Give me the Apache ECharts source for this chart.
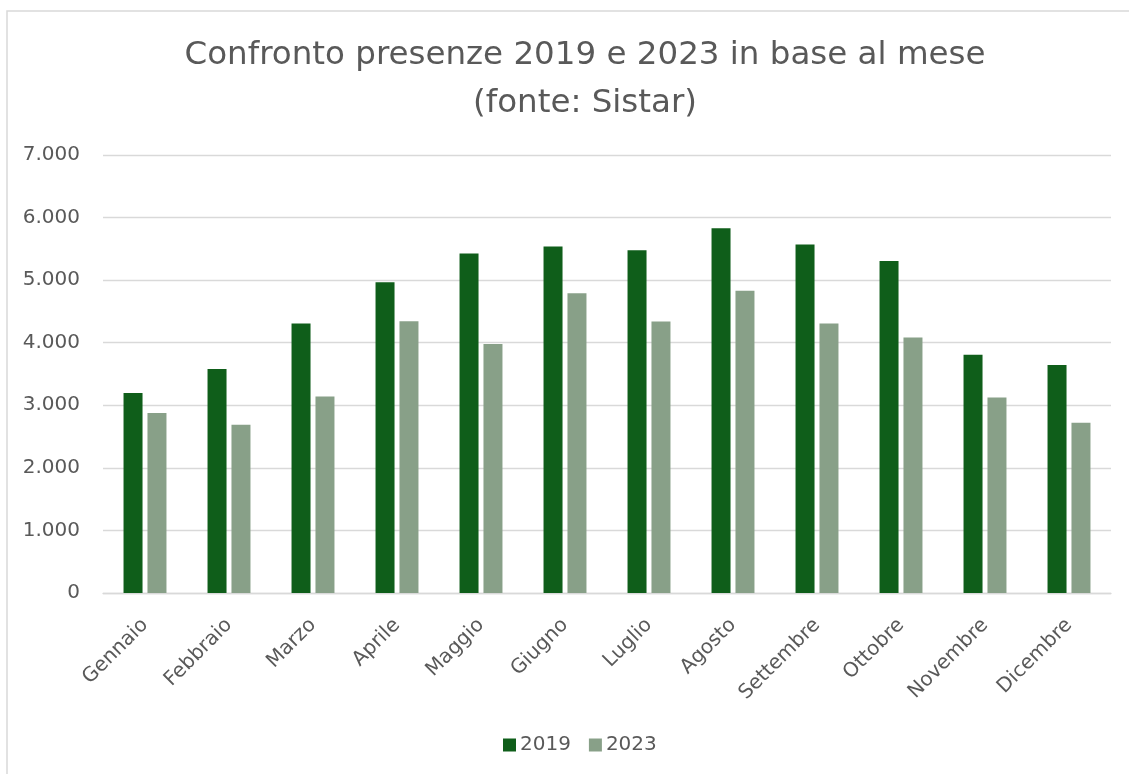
<!DOCTYPE html>
<html>
<head>
<meta charset="utf-8">
<script src="https://cdn.jsdelivr.net/npm/echarts@6/dist/echarts.min.js"></script>
<style>
  html, body { margin: 0; padding: 0; background: #ffffff; }
  #chart { width: 1129px; height: 774px; }
</style>
</head>
<body>
<div id="chart"></div>
<script>
// Monthly attendance, 2019 vs 2023
const months = ['Gennaio', 'Febbraio', 'Marzo', 'Aprile', 'Maggio', 'Giugno',
                'Luglio', 'Agosto', 'Settembre', 'Ottobre', 'Novembre', 'Dicembre'];
const presenze2019 = [3195, 3578, 4307, 4968, 5425, 5537, 5479, 5831, 5569, 5304, 3807, 3642];
const presenze2023 = [2875, 2689, 3141, 4345, 3978, 4792, 4339, 4829, 4307, 4083, 3125, 2720];
const seriesNames = ['2019', '2023'];
const titleLines = ['Confronto presenze 2019 e 2023 in base al mese', '(fonte: Sistar)'];

const FONT = '"DejaVu Sans", sans-serif';
const TEXT = '#595959';
const GRID_LINE = '#d9d9d9';

// Italian thousands separator
const fmt = v => String(v).replace(/\B(?=(\d{3})+(?!\d))/g, '.');

const chart = echarts.init(document.getElementById('chart'), null, { renderer: 'canvas' });
chart.setOption({
  backgroundColor: '#ffffff',
  animation: false,
  title: {
    text: titleLines.join('\n'),
    left: 580,
    top: 27,
    textAlign: 'center',
    textStyle: {
      fontFamily: FONT,
      fontSize: 32.5,
      fontWeight: 'normal',
      color: TEXT,
      lineHeight: 48
    }
  },
  legend: {
    data: seriesNames,
    left: 498,
    bottom: 14,
    itemWidth: 13,
    itemHeight: 13,
    itemGap: 18,
    icon: 'rect',
    textStyle: { fontFamily: FONT, fontSize: 20, color: TEXT, padding: [0, 0, 0, -1] }
  },
  grid: { left: 103, right: 18, top: 155, bottom: 181, containLabel: false },
  xAxis: {
    type: 'category',
    data: months,
    axisLine: { lineStyle: { color: GRID_LINE, width: 1.3 } },
    axisTick: { show: false },
    axisLabel: {
      rotate: 45,
      margin: 29,
      interval: 0,
      fontFamily: FONT,
      fontSize: 20,
      color: TEXT
    }
  },
  yAxis: {
    type: 'value',
    min: 0,
    max: 7000,
    interval: 1000,
    axisLine: { show: false },
    axisTick: { show: false },
    splitLine: { lineStyle: { color: GRID_LINE, width: 1.3 } },
    axisLabel: {
      margin: 23,
      fontFamily: FONT,
      fontSize: 20,
      color: TEXT,
      formatter: fmt
    }
  },
  series: [
    {
      name: seriesNames[0],
      type: 'bar',
      data: presenze2019,
      barWidth: 19,
      barGap: '26%',
      itemStyle: { color: '#0f5e1a' }
    },
    {
      name: seriesNames[1],
      type: 'bar',
      data: presenze2023,
      barWidth: 19,
      itemStyle: { color: '#88a088' }
    }
  ],
  graphic: [
    {
      type: 'rect',
      silent: true,
      shape: { x: 7, y: 11, width: 1150, height: 800 },
      style: { fill: 'none', stroke: GRID_LINE, lineWidth: 1.5 }
    }
  ]
});
</script>
</body>
</html>
